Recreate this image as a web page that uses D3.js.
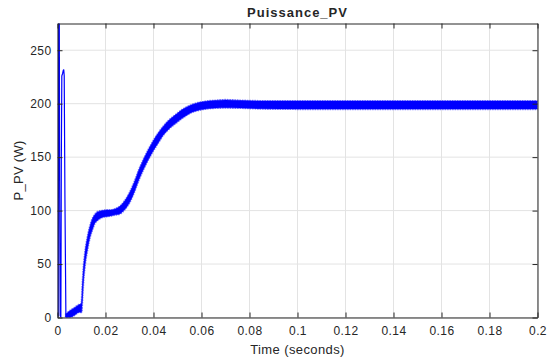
<!DOCTYPE html>
<html>
<head>
<meta charset="utf-8">
<script src="https://cdn.jsdelivr.net/npm/d3@7.9.0/dist/d3.min.js"></script>
<style>
  html, body { margin: 0; padding: 0; background: #fff; }
  svg text { font-family: "Liberation Sans", Arial, sans-serif; fill: #262626; }
</style>
</head>
<body>
<svg id="chart" width="549" height="358"></svg>
<script>
// tick values
const xTicks = [0, 0.02, 0.04, 0.06, 0.08, 0.1, 0.12, 0.14, 0.16, 0.18, 0.2];
const yTicks = [0, 50, 100, 150, 200, 250];

// start-up transient (thin line)
const spikeTime  = [0, 0.0003, 0.0005, 0.0007, 0.0009, 0.0011, 0.0014, 0.0016, 0.0018, 0.0021, 0.0024, 0.0026, 0.0028, 0.0031, 0.0035];
const spikeValue = [3, 2, 330, 330, 120, 2, 0, 150, 226, 228, 231, 232, 226, 110, 0];

// ripple band: time, upper and lower envelope (W)
const bandTime  = [0.0035, 0.005, 0.007, 0.009, 0.0100, 0.0104, 0.0108, 0.0114, 0.0125, 0.0135, 0.0145, 0.0155, 0.0165, 0.0176, 0.019, 0.0205, 0.022, 0.024, 0.026, 0.028, 0.030, 0.032, 0.034, 0.036, 0.038, 0.040, 0.042, 0.044, 0.046, 0.048, 0.050, 0.052, 0.054, 0.056, 0.058, 0.060, 0.063, 0.066, 0.070, 0.076, 0.085, 0.1, 0.12, 0.14, 0.16, 0.18, 0.2];
const bandUpper = [3, 6, 9, 12, 13, 30, 45, 59, 75, 85, 92, 96, 98.5, 99.5, 100, 100.5, 100.5, 101.5, 104, 109, 116.5, 126.5, 138.5, 148.5, 157.5, 165.5, 172.5, 178.5, 183.5, 187.5, 191, 194.5, 197, 199, 200.5, 201.5, 202.5, 203, 203.5, 203, 202.5, 202.5, 202.5, 202.5, 202.5, 202.5, 202.5];
const bandLower = [0, 0, 2, 5, 5, 19, 34, 48, 64, 75, 82, 88, 90.5, 92.5, 94, 94.5, 95, 96, 97, 101, 107.5, 117.5, 129.5, 139.5, 148.5, 156.5, 163.5, 170.5, 175.5, 179.5, 183, 186.5, 189.5, 192, 193.5, 194.5, 195.5, 196, 196.2, 196, 195.3, 195, 195, 195, 195, 195, 195];

const width = 549, height = 358;
const margin = { top: 23.5, right: 11.5, bottom: 40.5, left: 57.5 };
const innerW = width - margin.left - margin.right;
const innerH = height - margin.top - margin.bottom;

const svg = d3.select("#chart");

const x = d3.scaleLinear().domain([0, 0.2]).range([margin.left, margin.left + innerW]);
const y = d3.scaleLinear().domain([0, 275]).range([margin.top + innerH, margin.top]);

// grid
const grid = svg.append("g");
grid.selectAll(".gx").data(xTicks).enter().append("line")
    .attr("x1", d => x(d)).attr("x2", d => x(d))
    .attr("y1", margin.top).attr("y2", margin.top + innerH)
    .attr("stroke", "#e3e3e3").attr("stroke-width", 1);
grid.selectAll(".gy").data(yTicks).enter().append("line")
    .attr("x1", margin.left).attr("x2", margin.left + innerW)
    .attr("y1", d => y(d)).attr("y2", d => y(d))
    .attr("stroke", "#e3e3e3").attr("stroke-width", 1);

// clip the data to the axes box
svg.append("clipPath").attr("id", "plotClip")
  .append("rect")
    .attr("x", margin.left).attr("y", margin.top)
    .attr("width", innerW).attr("height", innerH);

const plot = svg.append("g").attr("clip-path", "url(#plotClip)");

const band = bandTime.map((t, i) => ({ t: t, hi: bandUpper[i], lo: bandLower[i] }));
const area = d3.area()
    .x(d => x(d.t))
    .y0(d => y(d.lo))
    .y1(d => y(d.hi))
    .curve(d3.curveMonotoneX);

// soft ripple fringe, then the solid band
plot.append("path")
    .datum(band)
    .attr("d", area)
    .attr("fill", "none")
    .attr("stroke", "#0000ff")
    .attr("stroke-opacity", 0.45)
    .attr("stroke-width", 2.2)
    .attr("stroke-dasharray", "1.5,1");
plot.append("path")
    .datum(band)
    .attr("d", area)
    .attr("fill", "#0000ff")
    .attr("stroke", "#0000ff")
    .attr("stroke-width", 0.6);

const spike = spikeTime.map((t, i) => ({ t: t, v: spikeValue[i] }));
plot.append("path")
    .datum(spike)
    .attr("d", d3.line().x(d => x(d.t)).y(d => y(d.v)))
    .attr("fill", "none")
    .attr("stroke", "#0000ff")
    .attr("stroke-width", 1.2);

// axes (MATLAB style: ticks inside, mirrored on top and right)
const fmt = d => d === 0 ? "0" : String(+d.toFixed(2));

const xAxis = svg.append("g")
    .attr("transform", `translate(0,${margin.top + innerH})`)
    .call(d3.axisBottom(x).tickValues(xTicks).tickSizeInner(-5).tickSizeOuter(0).tickPadding(9).tickFormat(fmt));
const xTop = svg.append("g")
    .attr("transform", `translate(0,${margin.top})`)
    .call(d3.axisTop(x).tickValues(xTicks).tickSizeInner(-5).tickSizeOuter(0).tickFormat(""));
const yAxis = svg.append("g")
    .attr("transform", `translate(${margin.left},0)`)
    .call(d3.axisLeft(y).tickValues(yTicks).tickSizeInner(-5).tickSizeOuter(0).tickPadding(6).tickFormat(fmt));
const yRight = svg.append("g")
    .attr("transform", `translate(${margin.left + innerW},0)`)
    .call(d3.axisRight(y).tickValues(yTicks).tickSizeInner(-5).tickSizeOuter(0).tickFormat(""));

[xAxis, xTop, yAxis, yRight].forEach(g => {
    g.selectAll("path.domain").attr("stroke", "#262626");
    g.selectAll(".tick line").attr("stroke", "#262626");
    g.selectAll("text").style("font-size", "12px").style("letter-spacing", "0.4px")
        .attr("fill", "#262626")
        .style("font-family", "'Liberation Sans', Arial, sans-serif");
});

// titles
svg.append("text")
    .attr("x", margin.left + innerW / 2).attr("y", 17)
    .attr("text-anchor", "middle")
    .style("font-size", "13px").style("font-weight", "bold")
    .style("letter-spacing", "1px")
    .attr("fill", "#000")
    .text("Puissance_PV");

svg.append("text")
    .attr("x", margin.left + innerW / 2).attr("y", 354)
    .attr("text-anchor", "middle")
    .style("font-size", "13px").style("letter-spacing", "0.4px")
    .text("Time (seconds)");

svg.append("text")
    .attr("transform", `translate(23,${margin.top + innerH / 2}) rotate(-90)`)
    .attr("text-anchor", "middle")
    .style("font-size", "13px").style("letter-spacing", "0.3px")
    .text("P_PV (W)");
</script>
</body>
</html>
